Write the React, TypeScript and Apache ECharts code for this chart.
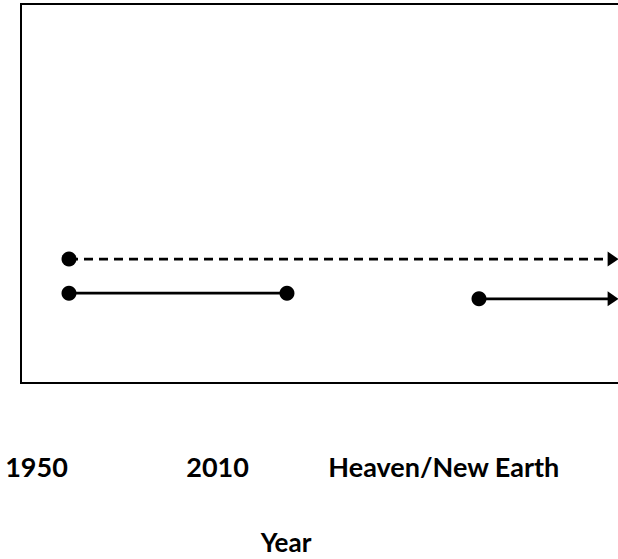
import React, { useEffect, useRef } from "react";
import * as echarts from "echarts";

// timeline positions (0..100 along the box)
const tickLabels = ["1950", "2010", "Heaven/New Earth"];
const tickPositions = [2.5, 31.7, 68.2];

const dashedLine = [
  [7.74, 32.7],
  [95.5, 32.7],
];
const solidLine1 = [
  [7.74, 23.7],
  [42.9, 23.7],
];
const solidLine2 = [
  [73.87, 22.2],
  [95.5, 22.2],
];

const axisName = "Year";

function mk(points: number[][], arrow: boolean) {
  return points.map((p, i) => {
    const last = i === points.length - 1;
    if (last && arrow) {
      return { value: p, symbol: "triangle", symbolRotate: -90, symbolSize: [15, 11] };
    }
    return { value: p, symbol: "circle", symbolSize: 15 };
  });
}

export default function App() {
  const ref = useRef<HTMLDivElement>(null);
  useEffect(() => {
    document.body.style.margin = "0";
    const chart = echarts.init(ref.current!, undefined, { renderer: "svg" });
    const font = "Lato, 'Open Sans', sans-serif";
    chart.setOption({
      animation: false,
      backgroundColor: "#ffffff",
      grid: {
        left: 21,
        top: 4,
        width: 620,
        height: 379,
        outerBoundsMode: "none",
        containLabel: false,
        show: true,
        borderColor: "#000",
        borderWidth: 2,
        backgroundColor: "transparent",
      },
      xAxis: {
        type: "value",
        min: 0,
        max: 100,
        axisLine: { show: false },
        axisTick: { show: false },
        splitLine: { show: false },
        axisLabel: {
          show: true,
          customValues: tickPositions,
          formatter: (v: number) => {
            const i = tickPositions.indexOf(v);
            return i >= 0 ? tickLabels[i] : "";
          },
          margin: 70,
          color: "#000",
          fontFamily: font,
          fontWeight: "bold",
          fontSize: 27,
          showMinLabel: true,
          showMaxLabel: true,
          hideOverlap: false,
        },
        name: axisName,
        nameLocation: "middle",
        nameGap: 146,
        nameTextStyle: {
          color: "#000",
          fontFamily: font,
          fontWeight: "bold",
          fontSize: 26,
          lineHeight: 26,
          padding: [0, 90, 0, 0],
        },
      },
      yAxis: {
        type: "value",
        min: 0,
        max: 100,
        show: false,
      },
      series: [
        {
          type: "line",
          data: mk(dashedLine, true),
          showAllSymbol: true,
          lineStyle: { color: "#000", width: 2.8, type: [9, 6] },
          itemStyle: { color: "#000" },
        },
        {
          type: "line",
          data: mk(solidLine1, false),
          showAllSymbol: true,
          lineStyle: { color: "#000", width: 2.8 },
          itemStyle: { color: "#000" },
        },
        {
          type: "line",
          data: mk(solidLine2, true),
          showAllSymbol: true,
          lineStyle: { color: "#000", width: 2.8 },
          itemStyle: { color: "#000" },
        },
      ],
    });
    return () => chart.dispose();
  }, []);
  return <div ref={ref} style={{ width: 618, height: 559 }} />;
}
